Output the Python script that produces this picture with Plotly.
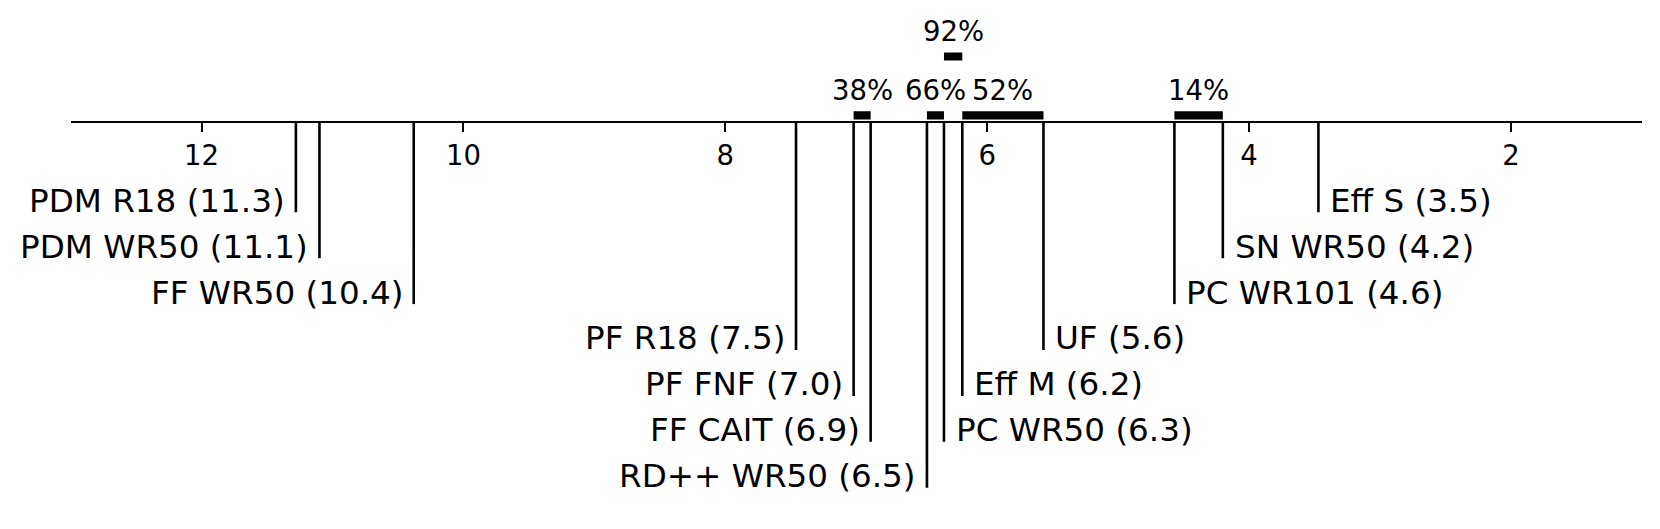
import math
import plotly.graph_objects as go

# ---------------- data ----------------
methods = ["PDM R18", "PDM WR50", "FF WR50", "PF R18", "PF FNF", "FF CAIT", "RD++ WR50",
           "PC WR50", "Eff M", "UF", "PC WR101", "SN WR50", "Eff S"]
avg_ranks = [11.28, 11.10, 10.38, 7.46, 7.02, 6.89, 6.46, 6.33, 6.19, 5.57, 4.57, 4.20, 3.47]

pair_a = ["PF FNF", "RD++ WR50", "PC WR50", "Eff M", "PC WR101"]
pair_b = ["FF CAIT", "PC WR50", "Eff M", "UF", "SN WR50"]
pair_pct = [38, 66, 92, 52, 14]

tick_values = [12, 10, 8, 6, 4, 2]
rank_lo, rank_hi = 1, 13

# ---------------- layout constants (pixels) ----------------
PAGE_OFF = 8               # default body margin of the html page
W, H = 1660 - PAGE_OFF, 529 - PAGE_OFF
AXIS_PX = 121.7 - PAGE_OFF # distance of the rank axis from the figure top
AX_X0, AX_X1 = 70.7 - PAGE_OFF, 1641.8 - PAGE_OFF
ROW0 = 90.6                # first label row below the axis
ROW_STEP = 45.9
TEXT_UP = 11.6             # text centre above the end of its line
BAR_Y0 = 6.4               # first bar row centre above the axis
BAR_HALF = 4.1
BAR_STEP = 58.8
PCT_UP = 25.8
FONT = "DejaVu Sans"
LABEL_SIZE = 32.6
SMALL_SIZE = 27.5
LW_AXIS = 2.2
LW_LINE = 2.6

rank_of = dict(zip(methods, avg_ranks))
fig = go.Figure()
annotations = []

# split into left (worse ranks) and right (better ranks)
order_desc = sorted(methods, key=lambda m: -rank_of[m])
n_left = math.ceil(len(methods) / 2)
left = order_desc[:n_left]
right = sorted(order_desc[n_left:], key=lambda m: rank_of[m])

vx, vy = [], []
for side, group in (("left", left), ("right", right)):
    for row, m in enumerate(group):
        r = rank_of[m]
        bottom = -(ROW0 + ROW_STEP * row)
        vx += [r, r, None]
        vy += [0, bottom, None]
        annotations.append(dict(
            x=r, y=bottom + TEXT_UP, xref="x", yref="y",
            text=f"{m} ({r:.1f})", showarrow=False,
            xanchor="right" if side == "left" else "left",
            xshift=-9 if side == "left" else 10,
            yanchor="middle",
            font=dict(family=FONT, size=LABEL_SIZE, color="black"),
        ))

fig.add_trace(go.Scatter(x=vx, y=vy, mode="lines",
                         line=dict(color="black", width=LW_LINE),
                         hoverinfo="skip", showlegend=False))

# bars between pairs, stacked on levels when they touch
pairs = sorted(zip(pair_a, pair_b, pair_pct),
               key=lambda p: -max(rank_of[p[0]], rank_of[p[1]]))
level_ends = []
for a, b, pct in pairs:
    hi = max(rank_of[a], rank_of[b])
    lo = min(rank_of[a], rank_of[b])
    lvl = None
    for i, end in enumerate(level_ends):
        if hi < end:
            lvl = i
            break
    if lvl is None:
        level_ends.append(lo)
        lvl = len(level_ends) - 1
    else:
        level_ends[lvl] = lo
    yc = BAR_Y0 + BAR_STEP * lvl
    fig.add_trace(go.Scatter(
        x=[hi, lo, lo, hi, hi],
        y=[yc - BAR_HALF, yc - BAR_HALF, yc + BAR_HALF, yc + BAR_HALF, yc - BAR_HALF],
        mode="lines", fill="toself", fillcolor="black",
        line=dict(color="black", width=0),
        hoverinfo="skip", showlegend=False))
    annotations.append(dict(
        x=(hi + lo) / 2, y=yc + PCT_UP, xref="x", yref="y",
        text=f"{pct}%", showarrow=False, xanchor="center", yanchor="middle",
        font=dict(family=FONT, size=SMALL_SIZE, color="black"),
    ))

fig.update_layout(
    width=W, height=H,
    margin=dict(l=0, r=0, t=0, b=0),
    paper_bgcolor="white", plot_bgcolor="white",
    showlegend=False,
    annotations=annotations,
    xaxis=dict(
        domain=[AX_X0 / W, AX_X1 / W],
        range=[rank_hi, rank_lo],
        anchor="free", position=(H - AXIS_PX) / H,
        showline=True, linecolor="black", linewidth=LW_AXIS,
        ticks="outside", ticklen=9, tickwidth=LW_AXIS, tickcolor="black",
        tickvals=tick_values, ticktext=[str(t) for t in tick_values],
        tickfont=dict(family=FONT, size=SMALL_SIZE, color="black"),
        showgrid=False, zeroline=False, fixedrange=True,
    ),
    yaxis=dict(
        domain=[0, 1],
        range=[-(H - AXIS_PX), AXIS_PX],
        visible=False, showgrid=False, zeroline=False, fixedrange=True,
    ),
)

fig.write_html("out.html")
